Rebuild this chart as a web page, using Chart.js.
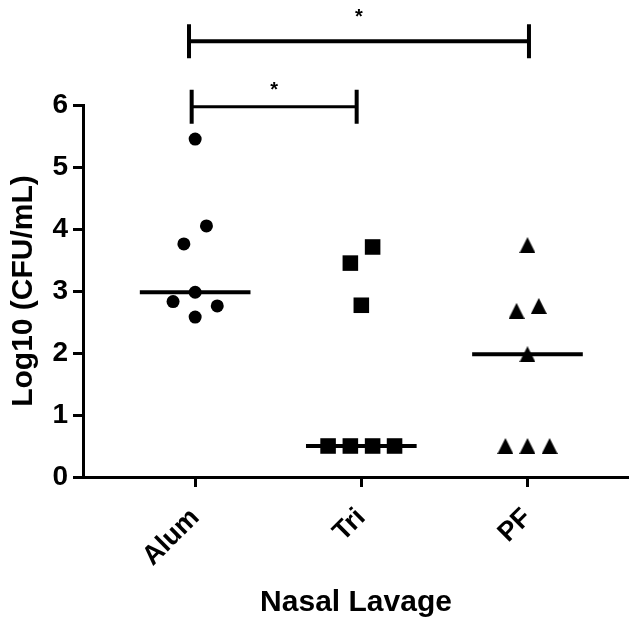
<!DOCTYPE html>
<html>
<head>
<meta charset="utf-8">
<title>Nasal Lavage</title>
<script src="https://cdn.jsdelivr.net/npm/chart.js@4.4.1/dist/chart.umd.min.js"></script>
<style>
    html, body { margin: 0; padding: 0; background: #fff; }
    #wrap { width: 629px; height: 625px; position: relative; }
</style>
</head>
<body>
<div id="wrap"><canvas id="cfuChart" width="629" height="625"></canvas></div>
<script>
// Groups on the x axis (positions 1, 2, 3)
const groups = ['Alum', 'Tri', 'PF'];

// Log10 CFU/mL per animal
const alumValues = [5.45, 4.05, 3.76, 2.98, 2.83, 2.76, 2.58];
const triValues = [3.71, 3.45, 2.77, 0.5, 0.5, 0.5, 0.5];
const pfValues = [3.74, 2.68, 2.76, 1.98, 0.5, 0.5, 0.5];

// Horizontal scatter of each point around its group (x units)
const alumSpread = [0, 0.068, -0.068, 0, -0.133, 0.133, 0];
const triSpread = [0.068, -0.066, 0, -0.2, -0.066, 0.068, 0.2];
const pfSpread = [0, -0.066, 0.068, 0, -0.133, 0, 0.133];

// y axis ticks
const yTicks = [0, 1, 2, 3, 4, 5, 6];

// Significance brackets: from / to (x), level (y), star height (y), text
const bracketFrom = [0.979, 0.963];
const bracketTo = [1.972, 3.009];
const bracketLevel = [5.97, 7.03];
const bracketStarLevel = [6.3, 7.47];
const bracketText = ['*', '*'];
const bracketWidth = [3, 4];

const FONT = "'Liberation Sans', Arial, Helvetica, sans-serif";
const MEDIAN_HALF = 0.333;

function median(values) {
    const sorted = [...values].sort((a, b) => a - b);
    const mid = Math.floor(sorted.length / 2);
    return sorted.length % 2 ? sorted[mid] : (sorted[mid - 1] + sorted[mid]) / 2;
}

function toPoints(groupIndex, values, spread) {
    return values.map((v, i) => ({ x: groupIndex + 1 + spread[i], y: v }));
}

function medianLine(groupIndex, values) {
    const m = median(values);
    const cx = groupIndex + 1;
    return {
        data: [{ x: cx - MEDIAN_HALF, y: m }, { x: cx + MEDIAN_HALF, y: m }],
        showLine: true,
        borderColor: '#000',
        borderWidth: 4,
        pointRadius: 0,
        order: 2
    };
}

// Upward triangle whose box is centred on the point
function makeTriangle(size) {
    const c = document.createElement('canvas');
    c.width = size;
    c.height = size;
    const g = c.getContext('2d');
    g.fillStyle = '#000';
    g.beginPath();
    g.moveTo(size / 2, 0);
    g.lineTo(size, size);
    g.lineTo(0, size);
    g.closePath();
    g.fill();
    return c;
}

// Draws the comparison brackets above the plot
const bracketPlugin = {
    id: 'brackets',
    afterDraw(chart) {
        const ctx = chart.ctx;
        const xs = chart.scales.x;
        const ys = chart.scales.y;
        ctx.save();
        ctx.strokeStyle = '#000';
        ctx.fillStyle = '#000';
        ctx.lineCap = 'butt';
        for (let i = 0; i < bracketLevel.length; i++) {
            const x1 = xs.getPixelForValue(bracketFrom[i]);
            const x2 = xs.getPixelForValue(bracketTo[i]);
            const y = ys.getPixelForValue(bracketLevel[i]);
            ctx.lineWidth = bracketWidth[i];
            ctx.beginPath();
            ctx.moveTo(x1, y);
            ctx.lineTo(x2, y);
            ctx.stroke();
            ctx.lineWidth = 4;
            ctx.beginPath();
            ctx.moveTo(x1, y - 17);
            ctx.lineTo(x1, y + 17);
            ctx.moveTo(x2, y - 17);
            ctx.lineTo(x2, y + 17);
            ctx.stroke();
            ctx.font = 'bold 20px ' + FONT;
            ctx.textAlign = 'center';
            ctx.textBaseline = 'middle';
            const sy = ys.getPixelForValue(bracketStarLevel[i]);
            ctx.fillText(bracketText[i], (x1 + x2) / 2, sy + 4);
        }
        ctx.restore();
    }
};

function buildChart() {
    const ctx = document.getElementById('cfuChart').getContext('2d');
    new Chart(ctx, {
        type: 'scatter',
        data: {
            datasets: [
                {
                    data: toPoints(0, alumValues, alumSpread),
                    pointStyle: 'circle',
                    pointRadius: 6.5,
                    backgroundColor: '#000',
                    borderWidth: 0,
                    order: 1
                },
                {
                    data: toPoints(1, triValues, triSpread),
                    pointStyle: 'rect',
                    pointRadius: 11,
                    backgroundColor: '#000',
                    borderWidth: 0,
                    order: 1
                },
                {
                    data: toPoints(2, pfValues, pfSpread),
                    pointStyle: makeTriangle(16),
                    pointRadius: 8,
                    backgroundColor: '#000',
                    borderWidth: 0,
                    order: 1
                },
                medianLine(0, alumValues),
                medianLine(1, triValues),
                medianLine(2, pfValues)
            ]
        },
        options: {
            responsive: false,
            animation: false,
            events: [],
            layout: {
                autoPadding: false,
                padding: { top: 105, left: 0, right: 0, bottom: 0 }
            },
            plugins: {
                legend: { display: false },
                tooltip: { enabled: false }
            },
            scales: {
                x: {
                    type: 'linear',
                    min: 0.325,
                    max: 3.611,
                    afterBuildTicks: scale => {
                        scale.ticks = groups.map((_, i) => ({ value: i + 1 }));
                    },
                    afterFit: scale => {
                        scale.height = 148;
                        scale.paddingLeft = 0;
                        scale.paddingRight = 0;
                    },
                    border: { display: true, color: '#000', width: 3 },
                    grid: {
                        drawOnChartArea: false,
                        drawTicks: true,
                        tickLength: 10,
                        tickWidth: 3,
                        tickColor: '#000'
                    },
                    ticks: {
                        autoSkip: false,
                        minRotation: 45,
                        maxRotation: 45,
                        padding: 15,
                        color: '#000',
                        font: { family: FONT, size: 27, weight: 'bold' },
                        callback: value => groups[value - 1]
                    },
                    title: {
                        display: true,
                        text: 'Nasal Lavage',
                        color: '#000',
                        font: { family: FONT, size: 30, weight: 'bold' },
                        padding: { top: 0, bottom: 4 }
                    }
                },
                y: {
                    min: 0,
                    max: 6,
                    afterBuildTicks: scale => {
                        scale.ticks = yTicks.map(v => ({ value: v }));
                    },
                    afterFit: scale => {
                        scale.width = 83;
                        scale.paddingTop = 0;
                        scale.paddingBottom = 0;
                    },
                    border: { display: true, color: '#000', width: 3 },
                    grid: {
                        drawOnChartArea: false,
                        drawTicks: true,
                        tickLength: 10,
                        tickWidth: 3,
                        tickColor: '#000'
                    },
                    ticks: {
                        padding: 5,
                        color: '#000',
                        font: { family: FONT, size: 28, weight: 'bold' }
                    },
                    title: {
                        display: true,
                        text: 'Log10 (CFU/mL)',
                        color: '#000',
                        font: { family: FONT, size: 30, weight: 'bold' },
                        padding: { top: 6, bottom: 0 }
                    }
                }
            }
        },
        plugins: [bracketPlugin]
    });
}

window.onload = buildChart;
</script>
</body>
</html>
